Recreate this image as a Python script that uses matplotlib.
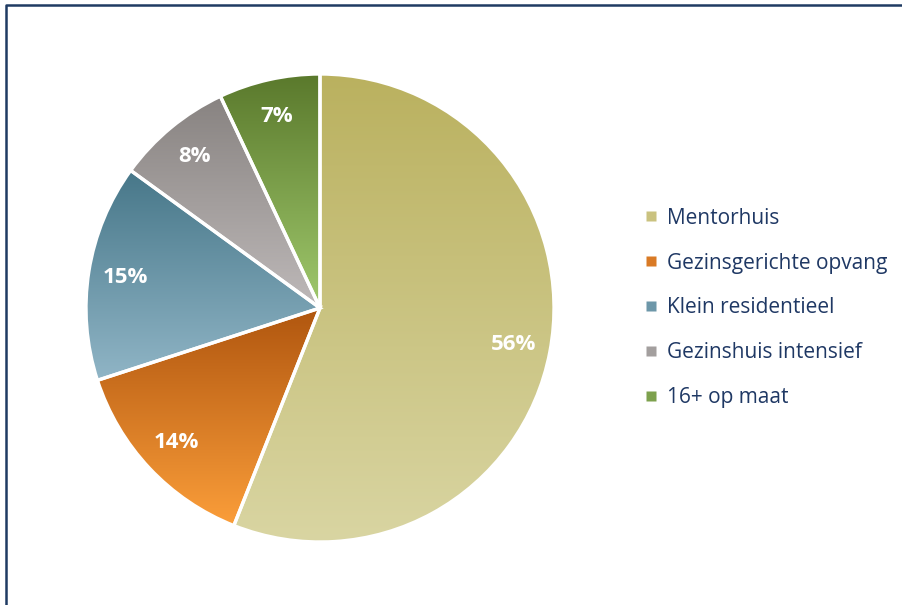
import matplotlib.pyplot as plt
import numpy as np
from matplotlib.lines import Line2D
from matplotlib.colors import LinearSegmentedColormap

labels = ['Mentorhuis', 'Gezinsgerichte opvang', 'Klein residentieel', 'Gezinshuis intensief', '16+ op maat']
values = [56, 14, 15, 8, 7]
# gradient colours per slice (top, bottom)
top_colors = ['#bab15f', '#b0560f', '#477789', '#888381', '#5a792c']
bottom_colors = ['#d9d5a2', '#fb9e3a', '#90b5c6', '#beb9b9', '#a0c96d']
mid_colors = ['#cac27f', '#d97a25', '#6d97a9', '#a39f9e', '#7da14d']

W, H = 902, 605
fig = plt.figure(figsize=(W / 100, H / 100), dpi=100)

cx, cy, r = 320, 605 - 308, 234
ax = fig.add_axes([(cx - r) / W, (cy - r) / H, 2 * r / W, 2 * r / H])

wedges, texts, autotexts = ax.pie(values, startangle=90, counterclock=False, radius=1,
                                  autopct='%1.0f%%', pctdistance=0.84,
                                  wedgeprops=dict(edgecolor='white', linewidth=2.4),
                                  textprops=dict(color='white', fontsize=16, fontweight='bold',
                                                 family='Open Sans'))

grad = np.linspace(0, 1, 256).reshape(-1, 1)
for w, c0, c1 in zip(wedges, top_colors, bottom_colors):
    x0, y0, x1, y1 = w.get_path().get_extents().extents
    cmap = LinearSegmentedColormap.from_list('g', [c0, c1])
    im = ax.imshow(grad, cmap=cmap, extent=[x0, x1, y0, y1], origin='upper',
                   aspect='auto', zorder=0.5, interpolation='bilinear')
    im.set_clip_path(w)
    w.set_facecolor('none')
    w.set_zorder(1)
for t in autotexts:
    t.set_zorder(3)

ax.set_xlim(-1, 1)
ax.set_ylim(-1, 1)
ax.set_aspect('auto')
ax.axis('off')

handles = [Line2D([], [], marker='s', linestyle='none', markersize=7,
                  markerfacecolor=c, markeredgecolor='none') for c in mid_colors]
fig.legend(handles, labels, loc='center left', bbox_to_anchor=(633 / W, 1 - 308 / H),
           frameon=False, borderpad=0, handlelength=0.7, handletextpad=0.45, labelspacing=1.15,
           prop=dict(family='Open Sans', size=15), labelcolor='#1f3864')

# frame: only top and left edges are visible in the picture
fig.add_artist(Line2D([6 / W, 6 / W, 1.05], [-0.05, 1 - 5 / H, 1 - 5 / H],
                      transform=fig.transFigure, color='#1f3b63', linewidth=1.8))

fig.savefig('out.png', dpi=100)
